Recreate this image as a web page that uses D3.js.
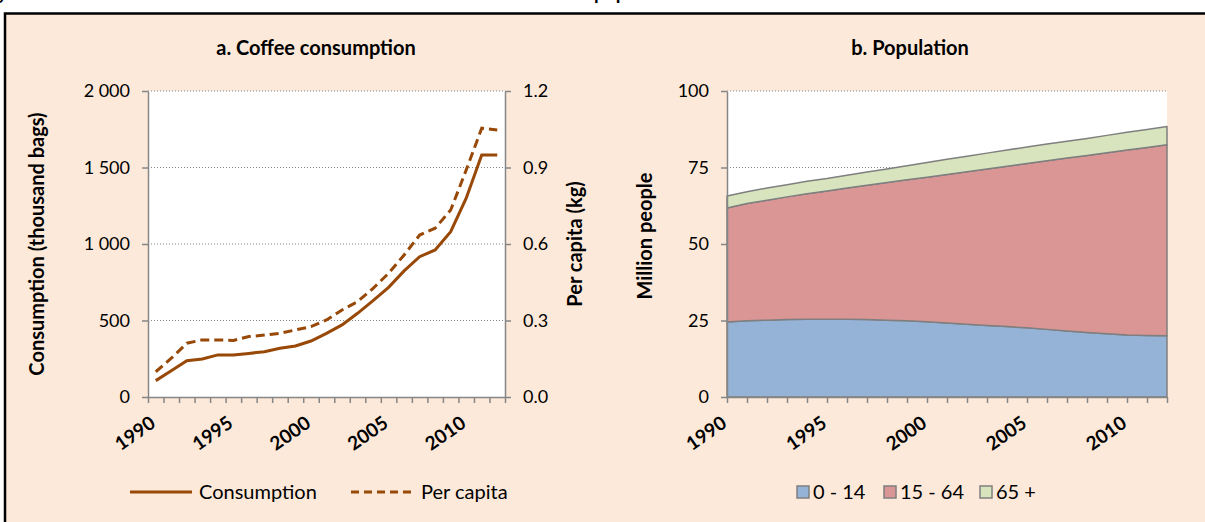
<!DOCTYPE html>
<html>
<head>
<meta charset="utf-8">
<script src="https://cdnjs.cloudflare.com/ajax/libs/d3/7.8.5/d3.min.js"></script>
<style>
  body{margin:0;background:#fff;}
  text{font-family:Lato,"Open Sans",sans-serif;fill:#000;}
  .axis path,.axis line{stroke:#868686;stroke-width:1.5;}
  .axis text{font-size:18px;font-family:Lato,"Open Sans",sans-serif;fill:#000;}
</style>
</head>
<body>
<svg id="chart"></svg>
<script>
// data
var years=[1990,1991,1992,1993,1994,1995,1996,1997,1998,1999,2000,2001,2002,2003,2004,2005,2006,2007,2008,2009,2010,2011,2012];
var consumption=[107,172,237,248,275,275,285,296,318,333,366,416,471,547,630,717,824,917,961,1081,1299,1582,1582];
var perCapita=[0.099,0.152,0.211,0.224,0.224,0.222,0.237,0.243,0.250,0.263,0.276,0.302,0.341,0.374,0.426,0.485,0.557,0.635,0.662,0.733,0.890,1.054,1.047];
var age0to14=[24.5,24.9,25.1,25.3,25.4,25.4,25.4,25.3,25.1,24.9,24.6,24.2,23.8,23.4,23.0,22.6,22.1,21.6,21.1,20.7,20.3,20.1,20.0];
var age15to64=[37.3,38.3,39.2,40.1,41.0,41.9,42.9,43.9,45.0,46.1,47.2,48.5,49.8,51.1,52.4,53.7,55.1,56.5,57.8,59.1,60.4,61.4,62.4];
var age65plus=[3.9,3.9,4.0,4.0,4.1,4.1,4.2,4.3,4.4,4.6,4.8,5.0,5.1,5.2,5.3,5.4,5.5,5.5,5.6,5.7,5.8,5.9,6.0];
var ageGroups=["0 - 14","15 - 64","65 +"];
var consTicks=[0,500,1000,1500,2000];
var capitaTicks=[0,0.3,0.6,0.9,1.2];
var popTicks=[0,25,50,75,100];
var yearLabels=[1990,1995,2000,2005,2010];

var width=1205;
var height=522;
var brown="#984807";
var ageColors=["#95B3D7","#D99694","#D7E4BD"];

var svg=d3.select("#chart")
  .attr("width",width)
  .attr("height",height);

// cut-off figure caption at the very top (only the descenders show)
var caption=svg.append("text")
    .attr("y",0)
    .style("font-weight","bold")
    .style("font-size","19px");
caption.append("tspan").attr("x",-22).text("Figure 5. Trends in coffee demand and the");
caption.append("tspan").attr("x",594).text("population");

// panel frame
svg.append("rect")
    .attr("x",5)
    .attr("y",13.5)
    .attr("width",width)
    .attr("height",height)
    .attr("fill","#FDE9D9")
    .attr("stroke","#000")
    .attr("stroke-width",2.5);

// ---------- a. Coffee consumption ----------
var plotTop=91, plotBottom=397;

var xBand=d3.scaleBand()
            .domain(years)
            .range([148,505]);

var xEdge=d3.scaleLinear()
            .domain([0,years.length])
            .range([148,505]);

var yCons=d3.scaleLinear()
            .domain([0,2000])
            .range([plotBottom,plotTop]);

var yCapita=d3.scaleLinear()
              .domain([0,1.2])
              .range([plotBottom,plotTop]);

svg.append("rect")
    .attr("x",148).attr("y",plotTop)
    .attr("width",505-148).attr("height",plotBottom-plotTop)
    .attr("fill","#fff");

// dotted gridlines
svg.append("g")
  .selectAll("line")
  .data(consTicks.slice(1))
  .enter()
  .append("line")
    .attr("x1",148).attr("x2",505)
    .attr("y1",d=>yCons(d)).attr("y2",d=>yCons(d))
    .attr("stroke","#868686")
    .attr("stroke-dasharray","1,2");

svg.append("g")
    .attr("class","axis")
    .attr("transform","translate(148,0)")
    .call(d3.axisLeft(yCons).tickValues(consTicks).tickSize(6).tickSizeOuter(0).tickPadding(12)
      .tickFormat(d=>d3.format(",")(d).replace(","," ")));

svg.append("g")
    .attr("class","axis")
    .attr("transform","translate(505,0)")
    .call(d3.axisRight(yCapita).tickValues(capitaTicks).tickSize(6).tickSizeOuter(0).tickPadding(12)
      .tickFormat(d3.format(".1f")));

svg.append("g")
    .attr("class","axis")
    .attr("transform","translate(0,"+plotBottom+")")
    .call(d3.axisBottom(xEdge).tickValues(d3.range(0,years.length+1)).tickSize(6).tickSizeOuter(0).tickFormat(""));

// rotated year labels
svg.append("g")
  .selectAll("text")
  .data(yearLabels)
  .enter()
  .append("text")
    .attr("transform",d=>"translate("+(xBand(d)+xBand.bandwidth()/2+1)+","+(plotBottom+29)+") rotate(-35)")
    .style("text-anchor","end")
    .style("font-weight","bold")
    .style("font-size","19px")
    .text(d=>d);

var consLine=d3.line()
               .x((d,i)=>xBand(years[i])+xBand.bandwidth()/2)
               .y(d=>yCons(d));

var capitaLine=d3.line()
                 .x((d,i)=>xBand(years[i])+xBand.bandwidth()/2)
                 .y(d=>yCapita(d));

svg.append("path")
    .datum(consumption)
    .attr("d",consLine)
    .attr("fill","none")
    .attr("stroke",brown)
    .attr("stroke-width",3);

svg.append("path")
    .datum(perCapita)
    .attr("d",capitaLine)
    .attr("fill","none")
    .attr("stroke",brown)
    .attr("stroke-width",3)
    .attr("stroke-dasharray","9,5");

svg.append("text")
    .attr("x",316).attr("y",55)
    .style("text-anchor","middle")
    .style("font-weight","bold")
    .style("font-size","20px")
    .text("a. Coffee consumption");

svg.append("text")
    .attr("transform","translate(44,244) rotate(-90)")
    .style("text-anchor","middle")
    .style("font-weight","bold")
    .style("font-size","20px")
    .text("Consumption (thousand  bags)");

svg.append("text")
    .attr("transform","translate(582,244) rotate(-90)")
    .style("text-anchor","middle")
    .style("font-weight","bold")
    .style("font-size","20px")
    .text("Per capita  (kg)");

// legend a
svg.append("line")
    .attr("x1",130).attr("x2",192).attr("y1",492).attr("y2",492)
    .attr("stroke",brown).attr("stroke-width",3);
svg.append("text")
    .attr("x",199).attr("y",499)
    .style("font-size","20px")
    .text("Consumption");
svg.append("line")
    .attr("x1",351).attr("x2",415).attr("y1",492).attr("y2",492)
    .attr("stroke",brown).attr("stroke-width",3)
    .attr("stroke-dasharray","8,5");
svg.append("text")
    .attr("x",421).attr("y",499)
    .style("font-size","20px")
    .text("Per capita");

// ---------- b. Population ----------
var xPop=d3.scaleLinear()
           .domain([1990,2012])
           .range([727,1167]);

var yPop=d3.scaleLinear()
           .domain([0,100])
           .range([plotBottom,plotTop]);

var popTable=years.map((y,i)=>({year:y,"0 - 14":age0to14[i],"15 - 64":age15to64[i],"65 +":age65plus[i]}));
var stacked=d3.stack().keys(ageGroups)(popTable);

svg.append("rect")
    .attr("x",727).attr("y",plotTop)
    .attr("width",1167-727).attr("height",plotBottom-plotTop)
    .attr("fill","#fff");

svg.append("g")
  .selectAll("line")
  .data(popTicks.slice(1))
  .enter()
  .append("line")
    .attr("x1",727).attr("x2",1167)
    .attr("y1",d=>yPop(d)).attr("y2",d=>yPop(d))
    .attr("stroke","#868686")
    .attr("stroke-dasharray","1,2");

var area=d3.area()
           .x(d=>xPop(d.data.year))
           .y0(d=>yPop(d[0]))
           .y1(d=>yPop(d[1]));

svg.append("g")
  .selectAll("path")
  .data(stacked)
  .enter()
  .append("path")
    .attr("d",area)
    .attr("fill",(d,i)=>ageColors[i])
    .attr("stroke","#7F7F7F")
    .attr("stroke-width",1.5)
    .attr("stroke-linejoin","round");

svg.append("g")
    .attr("class","axis")
    .attr("transform","translate(727,0)")
    .call(d3.axisLeft(yPop).tickValues(popTicks).tickSize(6).tickSizeOuter(0).tickPadding(12));

svg.append("g")
    .attr("class","axis")
    .attr("transform","translate(0,"+plotBottom+")")
    .call(d3.axisBottom(xPop).tickValues(years).tickSize(6).tickSizeOuter(0).tickFormat(""));

svg.append("g")
  .selectAll("text")
  .data(yearLabels)
  .enter()
  .append("text")
    .attr("transform",d=>"translate("+(xPop(d)+1)+","+(plotBottom+29)+") rotate(-35)")
    .style("text-anchor","end")
    .style("font-weight","bold")
    .style("font-size","19px")
    .text(d=>d);

svg.append("text")
    .attr("x",910).attr("y",55)
    .style("text-anchor","middle")
    .style("font-weight","bold")
    .style("font-size","20px")
    .text("b. Population");

svg.append("text")
    .attr("transform","translate(652,236) rotate(-90)")
    .style("text-anchor","middle")
    .style("font-weight","bold")
    .style("font-size","20px")
    .text("Million people");

// legend b
var legendX=[797,884,980];
var legend=svg.append("g")
  .selectAll("g")
  .data(ageGroups)
  .enter()
  .append("g")
    .attr("transform",(d,i)=>"translate("+legendX[i]+",486)");
legend.append("rect")
    .attr("width",12).attr("height",12)
    .attr("fill",(d,i)=>ageColors[i])
    .attr("stroke","#7F7F7F")
    .attr("stroke-width",1.5);
legend.append("text")
    .attr("x",16).attr("y",13)
    .style("font-size","20px")
    .text(d=>d);
</script>
</body>
</html>
